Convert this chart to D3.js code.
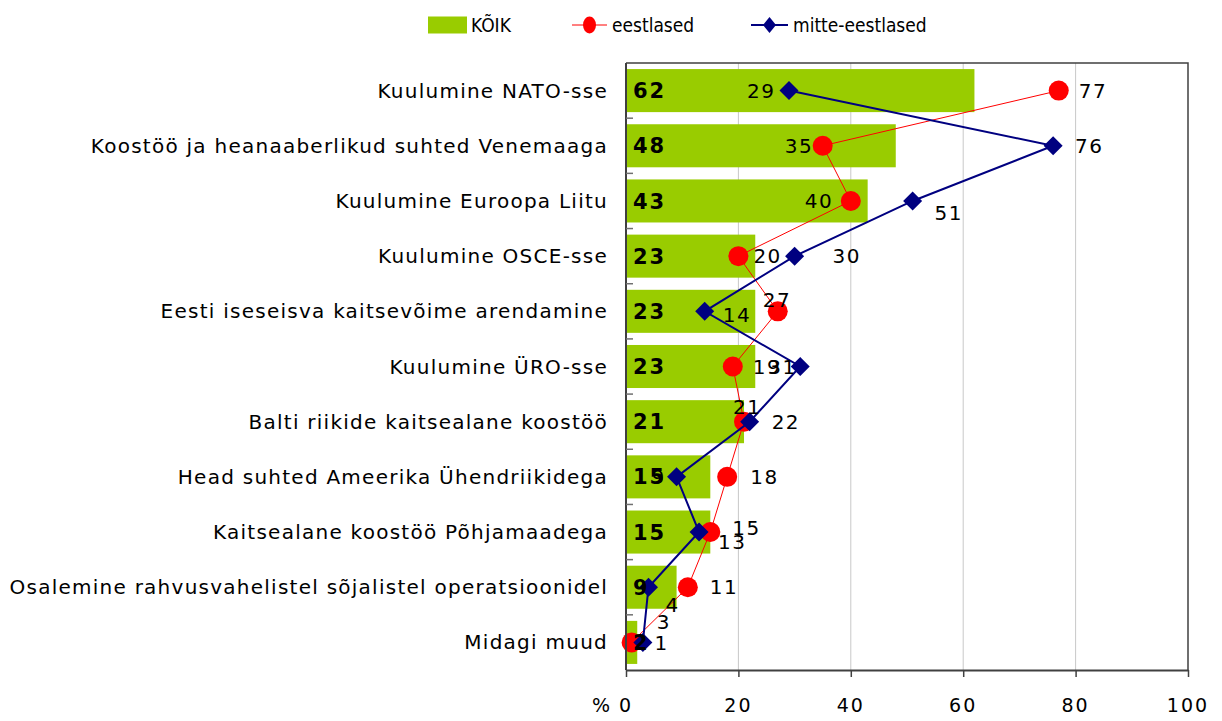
<!DOCTYPE html>
<html>
<head>
<meta charset="utf-8">
<script src="https://cdn.jsdelivr.net/npm/d3@7/dist/d3.min.js"></script>
<style>
  body { margin: 0; background: #fff; }
  text { font-family: "DejaVu Sans", sans-serif; fill: #000; }
  .cat { font-size: 20px; letter-spacing: 1.25px; }
  .val { font-size: 20px; letter-spacing: 1.5px; }
  .all { font-size: 21px; font-weight: bold; letter-spacing: 2px; }
  .tick-label { font-size: 19px; letter-spacing: 2px; }
  .legend text { font-family: "DejaVu Sans Condensed", "DejaVu Sans", sans-serif; font-stretch: condensed; font-size: 19px; }
</style>
</head>
<body>
<svg id="chart"></svg>
<script>
// chart size and plot margins
const width = 1222;
const height = 721;

const margin = { top: 63, right: 34, bottom: 51, left: 626 };

// categories, top to bottom
const categories = [
  "Kuulumine NATO-sse",
  "Koostöö ja heanaaberlikud suhted Venemaaga",
  "Kuulumine Euroopa Liitu",
  "Kuulumine OSCE-sse",
  "Eesti iseseisva kaitsevõime arendamine",
  "Kuulumine ÜRO-sse",
  "Balti riikide kaitsealane koostöö",
  "Head suhted Ameerika Ühendriikidega",
  "Kaitsealane koostöö Põhjamaadega",
  "Osalemine rahvusvahelistel sõjalistel operatsioonidel",
  "Midagi muud"
];

// series values (%)
const koik = [62, 48, 43, 23, 23, 23, 21, 15, 15, 9, 2];
const eestlased = [77, 35, 40, 20, 27, 19, 21, 18, 15, 11, 1];
const mitteEestlased = [29, 76, 51, 30, 14, 31, 22, 9, 13, 4, 3];

const xTicks = [0, 20, 40, 60, 80, 100];

// hand placed label nudges (dx, dy in px from the marker), as in the original
const eestNudge = [[20, 0], [-38, 0], [-46, 0], [15, 0], [-15, -12], [20, 0],
                   [-11, -15], [23, 0], [22, -4], [22, 0], [23, 0]];
const mitteNudge = [[-42, 0], [22, 0], [22, 12], [38, 0], [18, 3], [-32, 0],
                    [22, 0], [-25, 0], [19, 10], [17, 18], [14, -21]];

const colors = { koik: "#99CC00", eest: "#FF0000", mitte: "#000080" };

const plotWidth = width - margin.left - margin.right;
const plotHeight = height - margin.top - margin.bottom;

const svg = d3.select("#chart").attr("width", width).attr("height", height);

const x = d3.scaleLinear().domain([0, 100]).range([margin.left, margin.left + plotWidth]);
const y = d3.scaleBand().domain(categories)
  .range([margin.top, margin.top + plotHeight])
  .paddingInner(0.22).paddingOuter(0.11);

const cy = i => y(categories[i]) + y.bandwidth() / 2;

drawGrid();
drawBars();
drawSeries(eestlased, "eest");
drawSeries(mitteEestlased, "mitte");
drawAxes();
drawLabels();
drawLegend();

function translate(a, b) {
  return "translate(" + a + "," + b + ")";
}

function drawGrid() {
  svg.append("g")
    .selectAll("line")
    .data(xTicks.slice(1, -1))
    .enter()
    .append("line")
    .attr("x1", d => x(d)).attr("x2", d => x(d))
    .attr("y1", margin.top).attr("y2", margin.top + plotHeight)
    .attr("stroke", "#C8C8C8")
    .attr("stroke-width", 1);
}

function drawBars() {
  svg.append("g")
    .attr("id", "bars")
    .selectAll("rect")
    .data(koik)
    .enter()
    .append("rect")
    .attr("x", x(0))
    .attr("y", (d, i) => y(categories[i]))
    .attr("width", d => x(d) - x(0))
    .attr("height", y.bandwidth())
    .attr("fill", colors.koik);
}

function diamondPath(hw, hh) {
  return "M0," + (-hh) + "L" + hw + ",0L0," + hh + "L" + (-hw) + ",0Z";
}

function drawSeries(values, key) {
  let line = d3.line()
    .x(d => x(d))
    .y((d, i) => cy(i));

  let g = svg.append("g").attr("id", "series-" + key);

  g.append("path")
    .datum(values)
    .attr("d", line)
    .attr("fill", "none")
    .attr("stroke", colors[key])
    .attr("stroke-width", key == "eest" ? 1 : 2);

  if (key == "eest") {
    g.selectAll("circle")
      .data(values)
      .enter()
      .append("circle")
      .attr("cx", d => x(d))
      .attr("cy", (d, i) => cy(i))
      .attr("r", 10)
      .attr("fill", colors.eest);
  } else {
    g.selectAll("path.marker")
      .data(values)
      .enter()
      .append("path")
      .attr("class", "marker")
      .attr("d", diamondPath(9.5, 9.5))
      .attr("transform", (d, i) => translate(x(d), cy(i)))
      .attr("fill", colors.mitte);
  }
}

function drawAxes() {
  // frame on top and right
  svg.append("path")
    .attr("d", "M" + x(0) + "," + margin.top + "H" + x(100) + "V" + (margin.top + plotHeight))
    .attr("fill", "none")
    .attr("stroke", "#404040")
    .attr("stroke-width", 1.5);

  // bottom axis
  let xAxis = d3.axisBottom(x).tickValues(xTicks).tickSize(7).tickSizeOuter(0).tickFormat("");
  let xg = svg.append("g")
    .attr("transform", translate(0, margin.top + plotHeight))
    .call(xAxis);
  xg.select("path.domain").attr("stroke", "#404040").attr("stroke-width", 2);
  xg.selectAll(".tick line").attr("stroke", "#404040").attr("stroke-width", 1.5);

  svg.append("g")
    .selectAll("text")
    .data(xTicks)
    .enter()
    .append("text")
    .attr("class", "tick-label")
    .attr("x", d => x(d))
    .attr("y", margin.top + plotHeight + 35)
    .attr("dy", "0.35em")
    .attr("text-anchor", "middle")
    .text(d => d);

  svg.append("text")
    .attr("class", "tick-label")
    .attr("x", x(0) - 14)
    .attr("y", margin.top + plotHeight + 35)
    .attr("dy", "0.35em")
    .attr("text-anchor", "end")
    .text("%");

  // left axis: ticks between categories pointing inward
  let yg = svg.append("g");
  yg.append("line")
    .attr("x1", x(0)).attr("x2", x(0))
    .attr("y1", margin.top).attr("y2", margin.top + plotHeight)
    .attr("stroke", "#404040")
    .attr("stroke-width", 2);
  let bounds = categories.slice(1).map(c => y(c) - y.step() * y.paddingInner() / 2);
  yg.selectAll("line.tick")
    .data(bounds)
    .enter()
    .append("line")
    .attr("class", "tick")
    .attr("x1", x(0)).attr("x2", x(0) + 7)
    .attr("y1", d => d).attr("y2", d => d)
    .attr("stroke", "#707070")
    .attr("stroke-width", 1.5);

  // category labels
  svg.append("g")
    .selectAll("text")
    .data(categories)
    .enter()
    .append("text")
    .attr("class", "cat")
    .attr("x", x(0) - 18)
    .attr("y", d => y(d) + y.bandwidth() / 2)
    .attr("dy", "0.35em")
    .attr("text-anchor", "end")
    .text(d => d);
}

function drawLabels() {
  let g = svg.append("g").attr("id", "labels");

  g.selectAll("text.all")
    .data(koik)
    .enter()
    .append("text")
    .attr("class", "all")
    .attr("x", x(0) + 7)
    .attr("y", (d, i) => cy(i))
    .attr("dy", "0.36em")
    .text(d => d);

  g.selectAll("text.eest")
    .data(eestlased)
    .enter()
    .append("text")
    .attr("class", "val eest")
    .attr("x", (d, i) => x(d) + eestNudge[i][0])
    .attr("y", (d, i) => cy(i) + eestNudge[i][1])
    .attr("dy", "0.36em")
    .text(d => d);

  g.selectAll("text.mitte")
    .data(mitteEestlased)
    .enter()
    .append("text")
    .attr("class", "val mitte")
    .attr("x", (d, i) => x(d) + mitteNudge[i][0])
    .attr("y", (d, i) => cy(i) + mitteNudge[i][1])
    .attr("dy", "0.36em")
    .text(d => d);
}

function drawLegend() {
  let legend = svg.append("g").attr("class", "legend").attr("transform", translate(0, 25));

  legend.append("rect")
    .attr("x", 428).attr("y", -8.5)
    .attr("width", 39).attr("height", 17)
    .attr("fill", colors.koik);
  legend.append("text").attr("x", 471).attr("dy", "0.36em").text("KÕIK");

  legend.append("line")
    .attr("x1", 572).attr("x2", 607)
    .attr("stroke", colors.eest).attr("stroke-width", 1);
  legend.append("ellipse")
    .attr("cx", 589.5).attr("rx", 6.5).attr("ry", 8.5)
    .attr("fill", colors.eest);
  legend.append("text").attr("x", 612).attr("dy", "0.36em").text("eestlased");

  legend.append("line")
    .attr("x1", 751).attr("x2", 788)
    .attr("stroke", colors.mitte).attr("stroke-width", 2);
  legend.append("path")
    .attr("d", diamondPath(6.5, 8))
    .attr("transform", translate(769.5, 0))
    .attr("fill", colors.mitte);
  legend.append("text").attr("x", 793).attr("dy", "0.36em").text("mitte-eestlased");
}
</script>
</body>
</html>
